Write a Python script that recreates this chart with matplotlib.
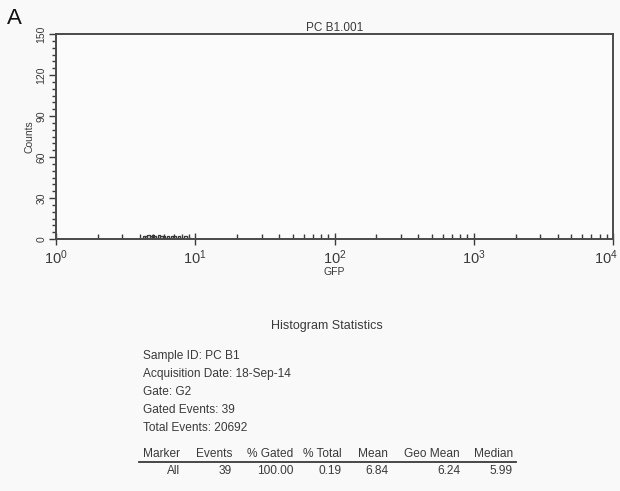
import numpy as np
import matplotlib
matplotlib.use('Agg')
from matplotlib import pyplot as plt
from matplotlib.ticker import LogLocator, MultipleLocator, FuncFormatter

plt.rcParams['font.family'] = ['Liberation Sans', 'DejaVu Sans']
plt.rcParams['mathtext.fontset'] = 'custom'
plt.rcParams['mathtext.rm'] = 'Liberation Sans'
plt.rcParams['mathtext.it'] = 'Liberation Sans'

# histogram channels (256 log channels over 4 decades) and counts
channels = list(range(40, 62))
counts = [2, 2, 3, 2, 3, 2, 1, 3, 2, 2, 1, 2, 1, 2, 2, 1, 2, 1, 1, 2, 1, 1]

title = 'PC B1.001'
decades = [0, 1, 2, 3, 4]
info_lines = ['Sample ID: PC B1', 'Acquisition Date: 18-Sep-14', 'Gate: G2',
              'Gated Events: 39', 'Total Events: 20692']
table_header = ['Marker', 'Events', '% Gated', '% Total', 'Mean', 'Geo Mean', 'Median']
table_row = ['All', '39', '100.00', '0.19', '6.84', '6.24', '5.99']

ink = '#3a3a3a'
W, H = 620, 491

fig = plt.figure(figsize=(6.2, 4.91), dpi=100, facecolor='#f9f9f9')

def fx(px):
    return px / W

def fy(py):
    return 1 - py / H

ax = fig.add_axes([fx(56), fy(239), fx(613) - fx(56), fy(34) - fy(239)])
ax.set_facecolor('#fbfbfb')

edges = 10 ** (np.arange(257) * 4 / 256)
lefts = [edges[c] for c in channels]
rights = [edges[c + 1] for c in channels]
xs, ys = [], []
for l, r, c in zip(lefts, rights, counts):
    xs += [l, l, r, r]
    ys += [0, c, c, 0]
ax.plot(xs, ys, color=ink, lw=0.9)

ax.set_xscale('log')
ax.set_xlim(10 ** decades[0], 10 ** decades[-1])
ax.set_ylim(0, 150)
ax.xaxis.set_major_locator(LogLocator(base=10, numticks=10))
ax.xaxis.set_minor_locator(LogLocator(base=10, subs=np.arange(2, 10), numticks=10))

def dec_label(v, pos):
    e = int(round(np.log10(v)))
    if e == decades[-1]:
        return ''  # drawn separately so it stays on the page
    return r'$10^{%d}$' % e

ax.xaxis.set_major_formatter(FuncFormatter(dec_label))
ax.yaxis.set_major_locator(MultipleLocator(30))
ax.yaxis.set_minor_locator(MultipleLocator(5))

for s in ax.spines.values():
    s.set_color('#4a4a4a')
    s.set_linewidth(1.4)

ax.tick_params(axis='x', which='major', direction='inout', length=8, width=1.0,
               color=ink, labelsize=10.5, labelcolor=ink, pad=3)
ax.tick_params(axis='x', which='minor', direction='in', length=3.5, width=1.0, color=ink)
ax.tick_params(axis='y', which='major', direction='out', length=5, width=1.0,
               color=ink, labelsize=7.5, labelcolor=ink, pad=2)
ax.tick_params(axis='y', which='minor', direction='out', length=3, width=1.0, color=ink)
for lab in ax.get_yticklabels():
    lab.set_rotation(90)
    lab.set_va('center')

ax.annotate(r'$10^{%d}$' % decades[-1], xy=(10 ** decades[-1], 0),
            xycoords=('data', 'axes fraction'), xytext=(-5, -6.5),
            textcoords='offset points', ha='center', va='top',
            fontsize=10.5, color=ink)

ax.set_xlabel('GFP', fontsize=7.5, color=ink, labelpad=0)
ax.set_ylabel('Counts', fontsize=7.5, color=ink, labelpad=1)
ax.set_title(title, fontsize=8.5, color=ink, pad=2.5)

fig.text(fx(7), fy(18), 'A', fontsize=16, color='#111111', va='center', ha='left')

fig.text(fx(327), fy(326), 'Histogram Statistics', fontsize=9, color=ink,
         ha='center', va='center')
for i, line in enumerate(info_lines):
    fig.text(fx(143), fy(356 + 18 * i), line, fontsize=8.6, color=ink,
             ha='left', va='center')

col_right = [180, 232, 293, 342, 388, 460, 513]
for r, h, v in zip(col_right, table_header, table_row):
    fig.text(fx(r), fy(454), h, fontsize=8.6, color=ink, ha='right', va='center')
    fig.text(fx(r), fy(471), v, fontsize=8.6, color=ink, ha='right', va='center')
fig.add_artist(plt.Line2D([fx(139), fx(516)], [fy(462), fy(462)], color=ink, lw=1.3))

fig.savefig('out.png', dpi=100, facecolor=fig.get_facecolor())
